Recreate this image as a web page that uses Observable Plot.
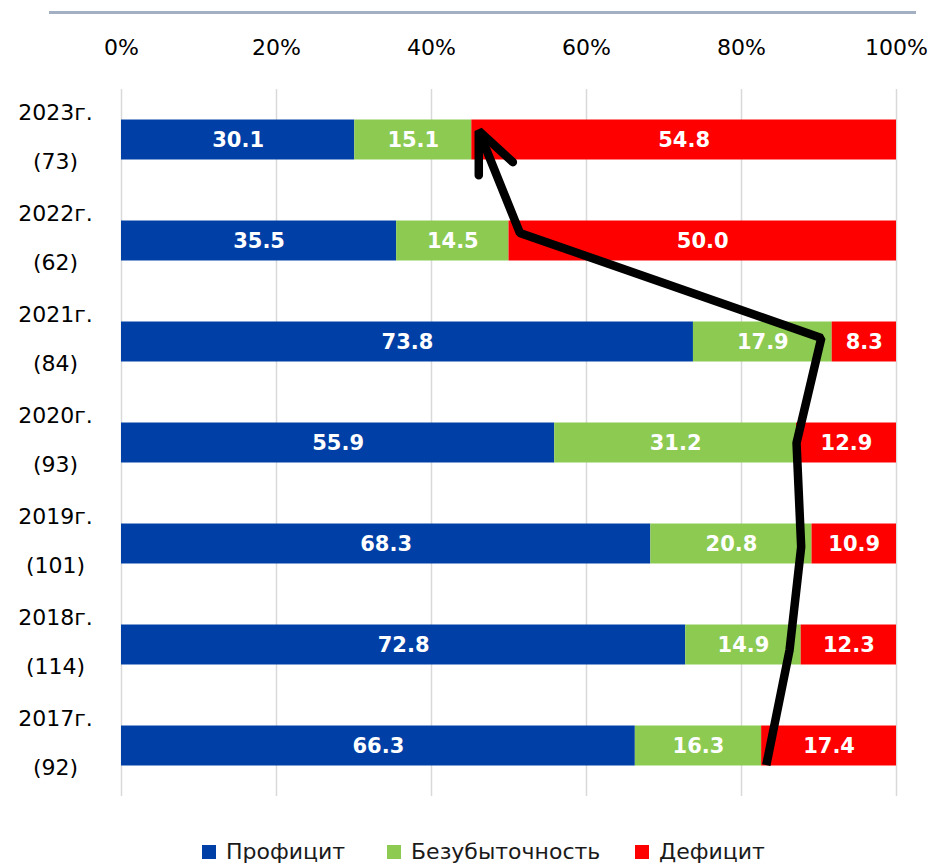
<!DOCTYPE html>
<html>
<head>
<meta charset="utf-8">
<script src="https://cdn.jsdelivr.net/npm/d3@7"></script>
<script src="https://cdn.jsdelivr.net/npm/@observablehq/plot@0.6"></script>
<style>
  html, body { margin: 0; padding: 0; background: #fff; }
  body { width: 932px; height: 865px; position: relative; overflow: hidden; font-family: "DejaVu Sans", sans-serif; }
  #topline { position: absolute; left: 49px; top: 11px; width: 867px; height: 3px; background: #a3b0c4; }
  #chart { position: absolute; left: 0; top: 0; }
  #legend { position: absolute; left: 0; top: 840px; width: 932px; height: 25px; font-size: 22px; color: #1a1a1a; line-height: 24px; }
  .item { position: absolute; top: 0; display: flex; align-items: center; white-space: nowrap; }
  .sw { width: 14px; height: 14px; margin-right: 10px; }
</style>
</head>
<body>
<div id="topline"></div>
<div id="chart"></div>
<div id="legend"></div>
<script>
// Data (top to bottom as in the chart)
const years = ["2023г.", "2022г.", "2021г.", "2020г.", "2019г.", "2018г.", "2017г."];
const counts = [73, 62, 84, 93, 101, 114, 92];
const profit = [30.1, 35.5, 73.8, 55.9, 68.3, 72.8, 66.3];
const breakeven = [15.1, 14.5, 17.9, 31.2, 20.8, 14.9, 16.3];
const deficit = [54.8, 50.0, 8.3, 12.9, 10.9, 12.3, 17.4];
const categories = ["Профицит", "Безубыточность", "Дефицит"];
const colors = ["#0040a6", "#8cca52", "#ff0000"];
const xTicks = [0, 20, 40, 60, 80, 100];

// Hand-drawn trend arrow (percent position, row position: 0 = 2017 ... 6 = 2023)
const arrowX = [83.2, 86.2, 87.7, 87.1, 90.3, 51.4, 46.1];
const arrowRow = [-0.19, 0.95, 1.97, 3.0, 4.04, 5.08, 6.09];
// arrowhead: left wing end, tip, right wing end
const headX = [46.1, 46.1, 50.5];
const headRow = [5.65, 6.09, 5.78];

const n = years.length;
const series = [profit, breakeven, deficit];
const segs = [];
years.forEach((yr, k) => {
  const row = n - 1 - k;
  let acc = 0;
  series.forEach((vals, c) => {
    const v = vals[k];
    segs.push({row, cat: categories[c], value: v, x1: acc, x2: acc + v});
    acc += v;
  });
});
const rows = years.map((yr, k) => ({row: n - 1 - k, label: `${yr}\n(${counts[k]})`}));
const path = arrowX.map((x, i) => ({x, row: arrowRow[i]}));
const head = headX.map((x, i) => ({x, row: headRow[i]}));
const halfBar = 0.198;

const chart = Plot.plot({
  width: 932,
  height: 830,
  marginTop: 89,
  marginBottom: 34,
  marginLeft: 121,
  marginRight: 36,
  style: {fontFamily: "DejaVu Sans, sans-serif", fontSize: "22px", color: "#000", background: "transparent"},
  x: {domain: [0, 100]},
  y: {domain: [-0.5, 6.5], axis: null},
  color: {domain: categories, range: colors},
  marks: [
    Plot.gridX(xTicks, {stroke: "#d9d9d9", strokeOpacity: 1, strokeWidth: 1.5}),
    Plot.axisX(xTicks, {anchor: "top", tickSize: 0, tickPadding: 35, tickFormat: d => d + "%", fontSize: 22}),
    Plot.rect(segs, {x1: "x1", x2: "x2", y1: d => d.row - halfBar, y2: d => d.row + halfBar, fill: "cat"}),
    Plot.text(segs, {x: d => (d.x1 + d.x2) / 2, y: "row", text: d => d.value.toFixed(1), fill: "white", fontWeight: "bold", fontSize: 21}),
    Plot.text(rows, {x: () => 0, y: "row", text: "label", dx: -66, dy: -11, textAnchor: "middle", lineHeight: 2.2, fontSize: 22, fill: "#000"}),
    Plot.line(path, {x: "x", y: "row", stroke: "black", strokeWidth: 8.5, strokeLinejoin: "miter", strokeLinecap: "butt"}),
    Plot.line(head, {x: "x", y: "row", stroke: "black", strokeWidth: 8.5, strokeLinejoin: "miter", strokeLinecap: "round"})
  ]
});
document.getElementById("chart").appendChild(chart);

const legendLeft = [202, 387, 635];
const legend = document.getElementById("legend");
categories.forEach((c, i) => {
  const it = document.createElement("div");
  it.className = "item";
  it.style.left = legendLeft[i] + "px";
  const sw = document.createElement("div");
  sw.className = "sw";
  sw.style.background = colors[i];
  const t = document.createElement("span");
  t.textContent = c;
  it.appendChild(sw);
  it.appendChild(t);
  legend.appendChild(it);
});
</script>
</body>
</html>
